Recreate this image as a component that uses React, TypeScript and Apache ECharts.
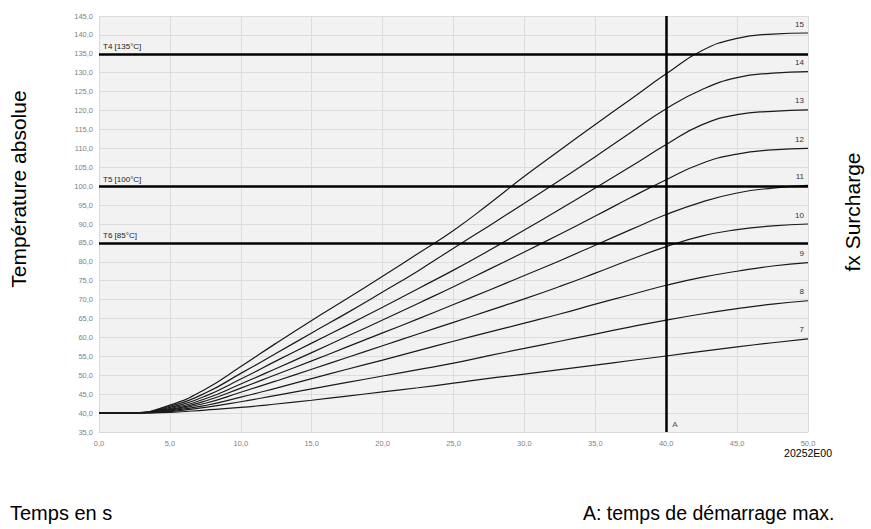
import React, { useEffect, useRef } from "react";
import * as echarts from "echarts";

const timeS = [0, 2.5, 5, 7.5, 10, 12.5, 15, 17.5, 20, 22.5, 25, 27.5, 30, 32.5, 35, 37.5, 40, 42.5, 45, 47.5, 50];

const curve15 = [40, 40.1, 42.1, 46.3, 52.3, 58.5, 64.5, 70.3, 76.2, 82.2, 88.3, 95.3, 102.6, 109.5, 116.3, 123, 129.7, 135.8, 139.1, 140.2, 140.5];
const curve14 = [40, 40.05, 41.8, 45.3, 50.5, 55.8, 61.2, 66.5, 72, 77.6, 83.6, 89.5, 95.5, 101.6, 107.8, 114.2, 120.5, 125.5, 128.7, 129.9, 130.3];
const curve13 = [40, 40.05, 41.5, 44.5, 49, 53.8, 58.5, 63.2, 68, 72.9, 77.8, 83, 88.4, 93.9, 99.5, 105.2, 111, 116.2, 118.9, 119.8, 120.2];
const curve12 = [40, 40.05, 41.2, 43.8, 47.7, 51.8, 56, 60.3, 64.6, 69, 73.4, 78, 82.6, 87.3, 92.1, 97, 101.7, 106, 108.5, 109.6, 110];
const curve11 = [40, 40.05, 41, 43.2, 46.6, 50.2, 53.8, 57.5, 61.2, 64.9, 68.7, 72.5, 76.4, 80.3, 84.4, 88.5, 92.5, 95.8, 98.2, 99.5, 100.2];
const curve10 = [40, 40.03, 40.8, 42.6, 45.5, 48.5, 51.6, 54.7, 57.8, 60.9, 64, 67.1, 70.2, 73.5, 77, 80.6, 84, 86.8, 88.5, 89.5, 90];
const curve9 = [40, 40.02, 40.6, 42, 44.2, 46.6, 49.1, 51.6, 54, 56.5, 59, 61.4, 63.8, 66.2, 68.8, 71.3, 73.8, 75.9, 77.5, 78.9, 79.8];
const curve8 = [40, 40.02, 40.4, 41.5, 43, 44.7, 46.4, 48.1, 49.8, 51.5, 53.2, 55.2, 57.1, 59, 60.9, 62.8, 64.6, 66.2, 67.6, 68.8, 69.7];
const curve7 = [40, 40.01, 40.2, 40.8, 41.5, 42.4, 43.4, 44.5, 45.6, 46.7, 47.9, 49.2, 50.3, 51.5, 52.7, 53.9, 55.1, 56.3, 57.5, 58.6, 59.6];

const curveNames = ["15", "14", "13", "12", "11", "10", "9", "8", "7"];
const curveValues = [curve15, curve14, curve13, curve12, curve11, curve10, curve9, curve8, curve7];

const limitNames = ["T4 [135°C]", "T5 [100°C]", "T6 [85°C]"];
const limitValues = [135, 100, 85];

const startTimeMax = 40;
const startTimeLabel = "A";

const fmt = (v: number) => v.toFixed(1).replace(".", ",");

export default function App() {
  const ref = useRef<HTMLDivElement>(null);

  useEffect(() => {
    document.body.style.margin = "0";
    if (!ref.current) return;
    const chart = echarts.init(ref.current, null, { renderer: "svg" });

    const curveSeries = curveNames.map((name, i) => ({
      name,
      type: "line",
      data: timeS.map((t, j) => [t, curveValues[i][j]]),
      showSymbol: false,
      smooth: 0.5,
      lineStyle: { color: "#1a1a1a", width: 1.2 },
      endLabel: {
        show: true,
        formatter: name,
        align: "right",
        offset: [-12, -9],
        fontSize: 8,
        fontFamily: "Liberation Sans",
        color: "#333",
      },
      silent: true,
      z: 3,
    }));

    const option = {
      animation: false,
      backgroundColor: "#ffffff",
      grid: {
        left: 99,
        right: 63,
        top: 16,
        bottom: 97,
        show: true,
        backgroundColor: "#f2f2f2",
        borderWidth: 0,
      },
      xAxis: {
        type: "value",
        min: 0,
        max: 50,
        interval: 5,
        axisLine: { show: true, lineStyle: { color: "#d9d9d9", width: 1 } },
        axisTick: { show: false },
        splitLine: { show: true, lineStyle: { color: "#dcdcdc", width: 1 } },
        axisLabel: {
          formatter: fmt,
          fontSize: 7.5,
          color: "#7f7f7f",
          fontFamily: "Liberation Sans",
          margin: 7,
        },
      },
      yAxis: {
        type: "value",
        min: 35,
        max: 145,
        interval: 5,
        axisLine: { show: true, lineStyle: { color: "#d9d9d9", width: 1 } },
        axisTick: { show: false },
        splitLine: { show: true, lineStyle: { color: "#dcdcdc", width: 1 } },
        axisLabel: {
          formatter: fmt,
          fontSize: 7.5,
          color: "#7f7f7f",
          fontFamily: "Liberation Sans",
          margin: 6,
        },
      },
      series: [
        ...curveSeries,
        {
          name: "limits",
          type: "line",
          data: [],
          silent: true,
          markLine: {
            silent: true,
            symbol: "none",
            animation: false,
            lineStyle: { color: "#000", width: 2.5, type: "solid" },
            data: [
              ...limitValues.map((v, i) => ({
                yAxis: v,
                label: {
                  show: true,
                  position: "insideStartTop",
                  formatter: limitNames[i],
                  fontSize: 8,
                  color: "#222",
                  fontFamily: "Liberation Sans",
                  distance: [4, 3],
                },
              })),
              { xAxis: startTimeMax, label: { show: false } },
            ],
          },
          z: 4,
        },
        {
          name: "A",
          type: "scatter",
          data: [[startTimeMax, 35]],
          symbolSize: 0,
          silent: true,
          label: {
            show: true,
            formatter: startTimeLabel,
            position: [6, -12],
            fontSize: 8,
            color: "#222",
            fontFamily: "Liberation Sans",
          },
          z: 5,
        },
      ],
      graphic: [
        {
          type: "text",
          x: 18,
          y: 189,
          rotation: Math.PI / 2,
          style: {
            text: "Température absolue",
            font: "21px 'Liberation Sans'",
            fill: "#000",
            align: "center",
            verticalAlign: "middle",
          },
        },
        {
          type: "text",
          x: 852,
          y: 212,
          rotation: Math.PI / 2,
          style: {
            text: "fx Surcharge",
            font: "21px 'Liberation Sans'",
            fill: "#000",
            align: "center",
            verticalAlign: "middle",
          },
        },
        {
          type: "text",
          x: 10,
          y: 513,
          style: {
            text: "Temps en s",
            font: "20px 'Liberation Sans'",
            fill: "#000",
            align: "left",
            verticalAlign: "middle",
          },
        },
        {
          type: "text",
          x: 583,
          y: 513,
          style: {
            text: "A: temps de démarrage max.",
            font: "19.5px 'Liberation Sans'",
            fill: "#000",
            align: "left",
            verticalAlign: "middle",
          },
        },
        {
          type: "text",
          x: 832,
          y: 453,
          style: {
            text: "20252E00",
            font: "10.5px 'Liberation Sans'",
            fill: "#000",
            align: "right",
            verticalAlign: "middle",
          },
        },
      ],
    };

    chart.setOption(option as any);
    return () => chart.dispose();
  }, []);

  return <div ref={ref} style={{ width: 871, height: 529 }} />;
}
